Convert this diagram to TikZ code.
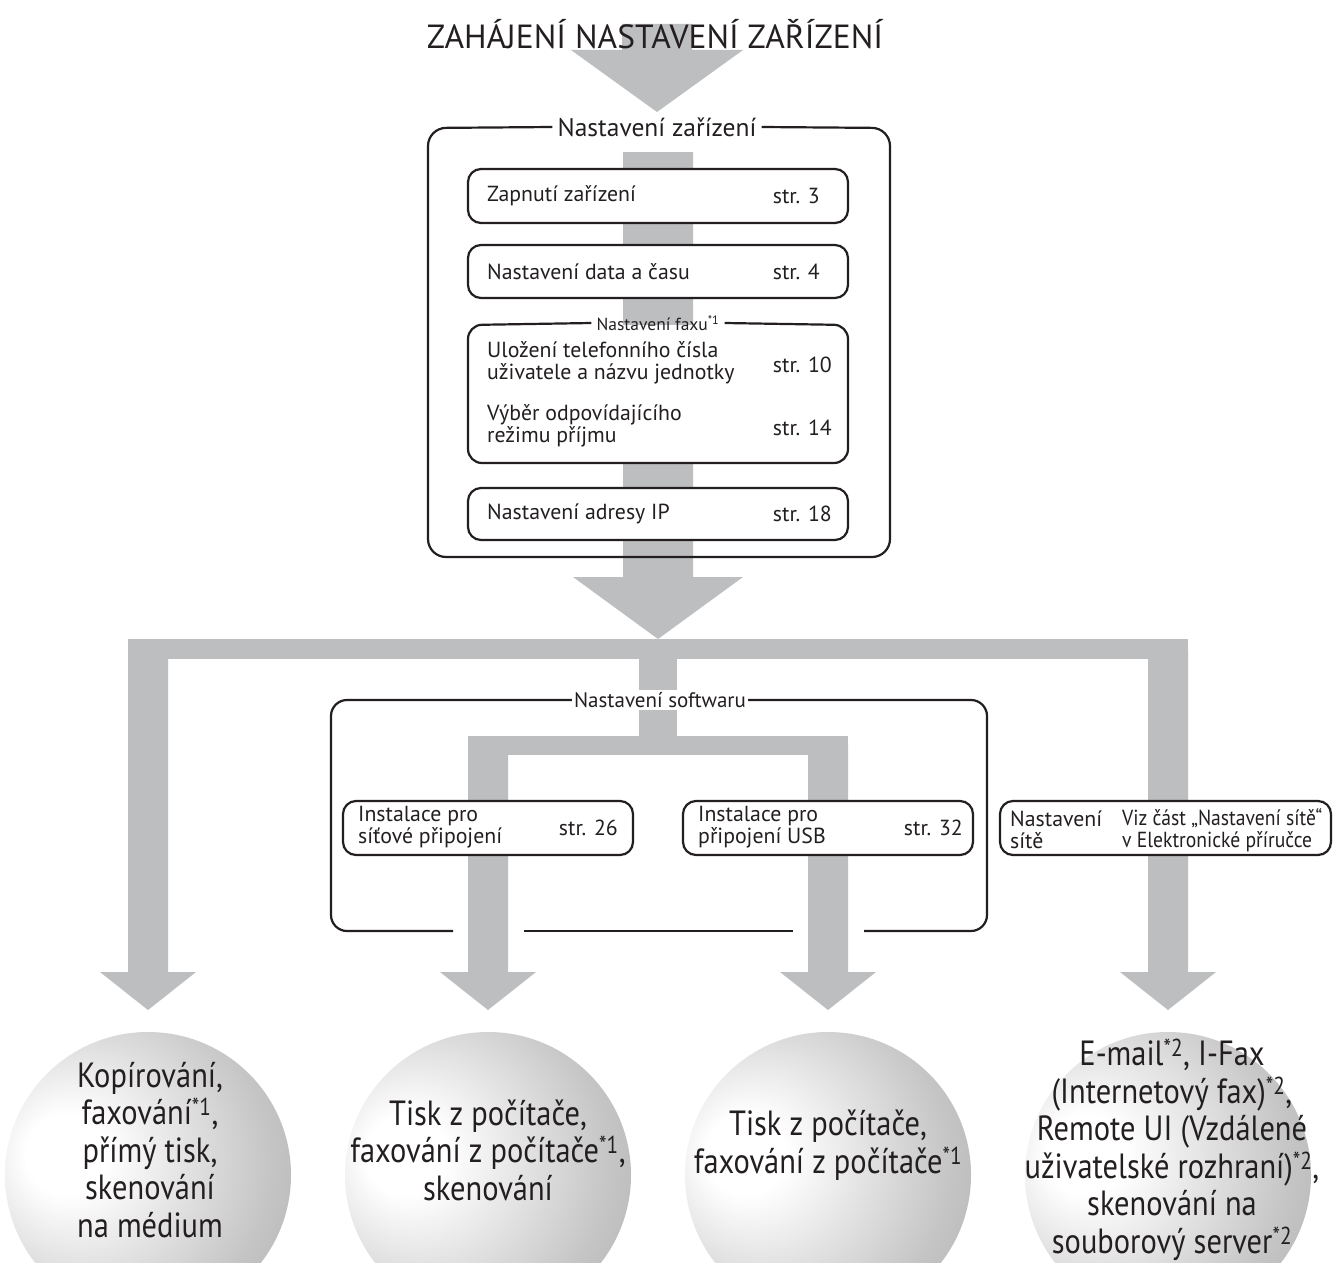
\documentclass[tikz,border=0pt]{standalone}
\usepackage{fontspec}
\setmainfont{PT Sans}
\newfontfamily\condfont[FakeStretch=0.87]{PT Sans}
\newfontfamily\semicondfont[FakeStretch=0.9]{PT Sans}
\definecolor{arrowgray}{RGB}{188,190,192}
\definecolor{ink}{RGB}{35,31,32}
\pgfdeclareradialshading{sphereshade}{\pgfpoint{-16bp}{4bp}}{color(0bp)=(white); color(7bp)=(white); color(30bp)=(gray!45); color(50bp)=(gray!75); color(70bp)=(gray!85)}
\newcommand\fn[1]{\textsuperscript{*#1}}
\begin{document}
\begin{tikzpicture}[x=1pt,y=-1pt,
  boxline/.style={draw=ink, line width=2.2pt},
  wbox/.style={boxline, fill=white, rounded corners=13pt, inner sep=0pt},
  btxt/.style={font=\fontsize{21.8}{22.5}\selectfont, text=ink, align=left, inner sep=0pt},
  ttl/.style={font=\fontsize{25.5}{27}\selectfont, text=ink, inner xsep=5pt, inner ysep=1pt},
  sphere/.style={circle, minimum size=286pt, shading=sphereshade, inner sep=0pt},
  ctxt/.style={font=\condfont\fontsize{35}{37.5}\selectfont, text=ink, align=center, inner sep=0pt},
  gr/.style={fill=arrowgray}
]
\clip (0,0) rectangle (1333,1263);
\fill[white] (0,0) rectangle (1333,1263);

% ---- gray arrows ----
\fill[gr] (622,24) -- (692,24) -- (692,50) -- (743,50) -- (657,112) -- (571,50) -- (622,50) -- cycle;
\fill[gr] (623,152) -- (693,152) -- (693,577) -- (743,577) -- (658,639) -- (573,577) -- (623,577) -- cycle;
\fill[gr] (128,639) rectangle (1188,659);
\fill[gr] (128,650) -- (168,650) -- (168,972) -- (196,972) -- (148,1010) -- (100,972) -- (128,972) -- cycle;
\fill[gr] (1148,650) -- (1188,650) -- (1188,972) -- (1216,972) -- (1168,1010) -- (1120,972) -- (1148,972) -- cycle;
\fill[gr] (639,650) rectangle (677,745);
\fill[gr] (468,736) rectangle (848,755);
\fill[gr] (468,745) -- (508,745) -- (508,972) -- (536,972) -- (488,1010) -- (440,972) -- (468,972) -- cycle;
\fill[gr] (808,745) -- (848,745) -- (848,972) -- (876,972) -- (828,1010) -- (780,972) -- (808,972) -- cycle;

% ---- title ----
\node[font=\fontsize{33.5}{35}\selectfont, text=ink, inner sep=0pt] (title) at (655,34) {ZAHÁJENÍ NASTAVENÍ ZAŘÍZENÍ};

% ---- device settings ----
\node[ttl] (devtitle) at (657,127) {Nastavení zařízení};
\draw[boxline, rounded corners=18pt] (devtitle.west) -- (428,128) -- (428,557) -- (890,557) -- (890,128) -- (devtitle.east);

\node[wbox, minimum width=380pt, minimum height=54pt] (zap) at (658,196) {};
\node[btxt, anchor=west] (zapt) at (487,196) {Zapnutí zařízení};
\node[btxt, anchor=east] (zapp) at (820,196) {str. 3};

\node[wbox, minimum width=380pt, minimum height=53pt] (dat) at (658,271.5) {};
\node[btxt, anchor=west] (datt) at (487,271.5) {Nastavení data a času};
\node[btxt, anchor=east] (datp) at (820,271.5) {str. 4};

\fill[white, rounded corners=14pt] (468,325) rectangle (848,463);
\node[font=\fontsize{17.5}{20}\selectfont, text=ink, inner xsep=5pt, inner ysep=0pt] (faxtitle) at (658,323) {Nastavení faxu\fn{1}};
\draw[boxline, rounded corners=14pt] (faxtitle.west) -- (468,325) -- (468,463) -- (848,463) -- (848,325) -- (faxtitle.east);
\node[btxt, anchor=west] (fax1t) at (487,363) {Uložení telefonního čísla\\uživatele a názvu jednotky};
\node[btxt, anchor=east] (fax1p) at (832,365) {str. 10};
\node[btxt, anchor=west] (fax2t) at (487,426) {Výběr odpovídajícího\\režimu příjmu};
\node[btxt, anchor=east] (fax2p) at (832,428) {str. 14};

\node[wbox, minimum width=380pt, minimum height=52pt] (ip) at (658,514) {};
\node[btxt, anchor=west] (ipt) at (487,514) {Nastavení adresy IP};
\node[btxt, anchor=east] (ipp) at (832,514) {str. 18};

% ---- software settings ----
\node[ttl, font=\fontsize{21}{23}\selectfont, fill=white, inner xsep=2pt, inner ysep=2pt] (swtitle) at (660,700) {Nastavení softwaru};
\draw[boxline, rounded corners=16pt] (swtitle.west) -- (331,700) -- (331,931) -- (453,931);
\draw[boxline] (524,931) -- (793,931);
\draw[boxline, rounded corners=16pt] (864,931) -- (987,931) -- (987,700) -- (swtitle.east);

\node[wbox, minimum width=290pt, minimum height=54pt] (inet) at (488,828) {};
\node[btxt, anchor=west] (inett) at (358,827) {Instalace pro\\síťové připojení};
\node[btxt, anchor=east] (inetp) at (618,828) {str. 26};

\node[wbox, minimum width=290pt, minimum height=54pt] (iusb) at (828,828) {};
\node[btxt, anchor=west] (iusbt) at (698,827) {Instalace pro\\připojení USB};
\node[btxt, anchor=east] (iusbp) at (963,828) {str. 32};

% ---- network settings ----
\node[wbox, minimum width=331pt, minimum height=54pt] (nset) at (1165.5,828) {};
\node[btxt, anchor=west] (nsett) at (1010,830) {Nastavení\\sítě};
\node[btxt, font=\semicondfont\fontsize{21.8}{22.5}\selectfont, anchor=west] (nsetr) at (1122,830) {Viz část „Nastavení sítě“\\v Elektronické příručce};

% ---- result spheres ----
\node[sphere] (c1) at (148,1175) {};
\node[sphere] (c2) at (488,1175) {};
\node[sphere] (c3) at (828,1175) {};
\node[sphere] (c4) at (1168,1175) {};
\node[ctxt] (c1t) at (150,1150) {Kopírování,\\faxování\fn{1},\\přímý tisk,\\skenování\\na médium};
\node[ctxt] (c2t) at (488,1150) {Tisk z počítače,\\faxování z počítače\fn{1},\\skenování};
\node[ctxt] (c3t) at (828,1145) {Tisk z počítače,\\faxování z počítače\fn{1}};
\node[ctxt] (c4t) at (1172,1150) {E-mail\fn{2}, I-Fax\\(Internetový fax)\fn{2},\\Remote UI (Vzdálené\\uživatelské rozhraní)\fn{2},\\skenování na\\souborový server\fn{2}};
\end{tikzpicture}
\end{document}
